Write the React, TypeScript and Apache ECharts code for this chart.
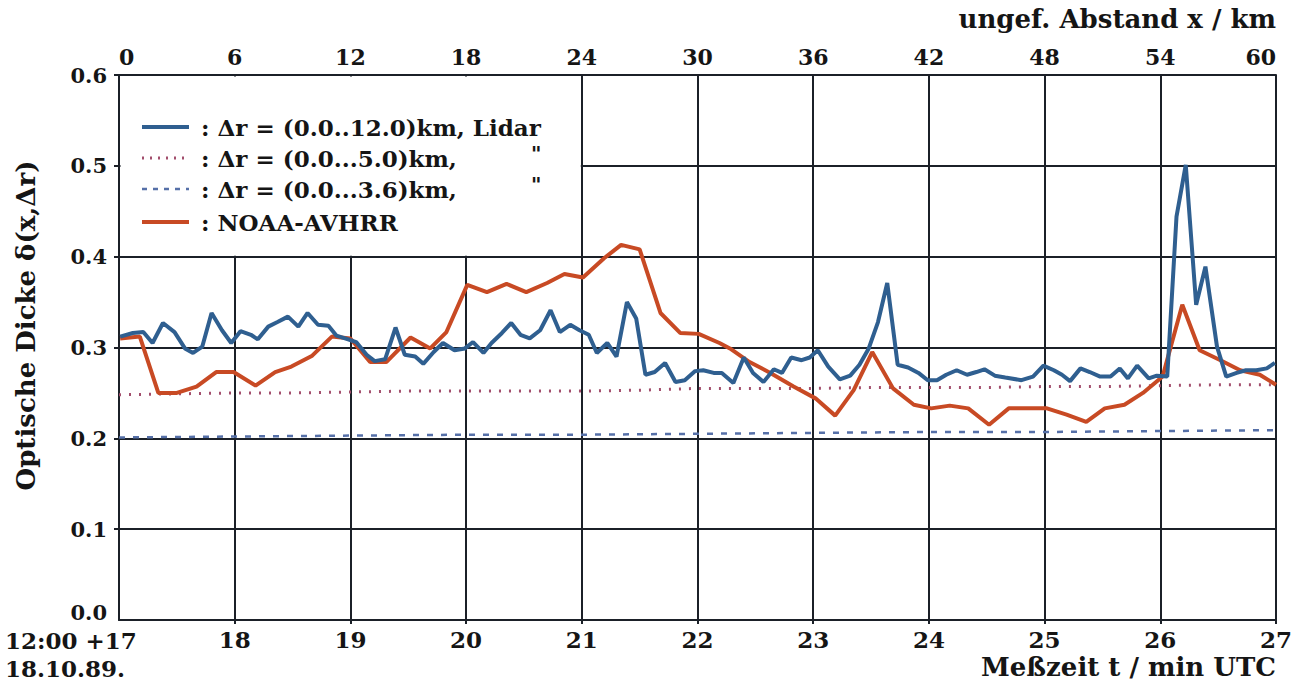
import React, { useEffect, useRef } from "react";
import * as echarts from "echarts";

const FONT = "'DejaVu Serif', 'Liberation Serif', serif";

// Lidar, Δr = 0.0..12.0 km  [t (min), δ]
const lidar12: number[][] = [
  [17.01, 0.312], [17.12, 0.316], [17.21, 0.317], [17.29, 0.305], [17.38, 0.327],
  [17.48, 0.317], [17.57, 0.299], [17.64, 0.294], [17.72, 0.301], [17.8, 0.338],
  [17.89, 0.319], [17.97, 0.305], [18.05, 0.318], [18.14, 0.314], [18.2, 0.309],
  [18.29, 0.323], [18.37, 0.328], [18.46, 0.334], [18.55, 0.323], [18.63, 0.338],
  [18.72, 0.325], [18.81, 0.324], [18.88, 0.313], [18.98, 0.309], [19.05, 0.306],
  [19.14, 0.292], [19.21, 0.285], [19.3, 0.287], [19.39, 0.322], [19.47, 0.292],
  [19.56, 0.29], [19.63, 0.282], [19.72, 0.295], [19.8, 0.305], [19.9, 0.297],
  [19.99, 0.299], [20.06, 0.306], [20.15, 0.294], [20.22, 0.305], [20.31, 0.316],
  [20.39, 0.327], [20.47, 0.314], [20.55, 0.31], [20.64, 0.319], [20.73, 0.341],
  [20.81, 0.317], [20.9, 0.325], [20.98, 0.319], [21.06, 0.314], [21.13, 0.294],
  [21.22, 0.305], [21.3, 0.29], [21.39, 0.35], [21.47, 0.332], [21.55, 0.27],
  [21.63, 0.273], [21.72, 0.283], [21.81, 0.262], [21.89, 0.264], [21.98, 0.274],
  [22.05, 0.275], [22.14, 0.272], [22.21, 0.272], [22.31, 0.261], [22.4, 0.289],
  [22.48, 0.272], [22.57, 0.262], [22.66, 0.276], [22.73, 0.272], [22.81, 0.289],
  [22.9, 0.286], [22.97, 0.289], [23.04, 0.297], [23.13, 0.279], [23.23, 0.265],
  [23.32, 0.269], [23.4, 0.281], [23.48, 0.299], [23.56, 0.328], [23.64, 0.371],
  [23.73, 0.281], [23.82, 0.278], [23.91, 0.272], [23.99, 0.264], [24.07, 0.264],
  [24.15, 0.27], [24.24, 0.275], [24.33, 0.27], [24.41, 0.273], [24.48, 0.276],
  [24.57, 0.269], [24.66, 0.267], [24.8, 0.264], [24.9, 0.268], [24.99, 0.28],
  [25.08, 0.275], [25.15, 0.27], [25.22, 0.263], [25.31, 0.277], [25.39, 0.273],
  [25.48, 0.268], [25.57, 0.268], [25.65, 0.277], [25.72, 0.266], [25.8, 0.28],
  [25.9, 0.266], [25.97, 0.269], [26.06, 0.268], [26.14, 0.444], [26.22, 0.501],
  [26.31, 0.347], [26.39, 0.389], [26.49, 0.301], [26.57, 0.268], [26.66, 0.272],
  [26.74, 0.275], [26.83, 0.275], [26.92, 0.277], [26.99, 0.283],
];

// Lidar, Δr = 0.0..5.0 km
const lidar5: number[][] = [
  [17, 0.248], [17.5, 0.249], [18, 0.25], [18.5, 0.25], [19, 0.251], [19.5, 0.252],
  [20, 0.252], [20.5, 0.252], [21, 0.252], [21.5, 0.253], [22, 0.255], [22.5, 0.255],
  [23, 0.255], [23.5, 0.256], [24, 0.256], [24.5, 0.256], [25, 0.257], [25.5, 0.257],
  [26, 0.258], [26.5, 0.259], [27, 0.259],
];

// Lidar, Δr = 0.0..3.6 km
const lidar36: number[][] = [
  [17, 0.201], [18, 0.202], [19, 0.203], [20, 0.204], [21, 0.204], [22, 0.205],
  [23, 0.206], [24, 0.207], [25, 0.207], [26, 0.208], [27, 0.209],
];

// NOAA-AVHRR
const noaa: number[][] = [
  [17.01, 0.31], [17.18, 0.312], [17.34, 0.25], [17.5, 0.25], [17.67, 0.257],
  [17.84, 0.273], [17.99, 0.273], [18.18, 0.258], [18.35, 0.273], [18.49, 0.279],
  [18.67, 0.291], [18.84, 0.312], [19.0, 0.31], [19.17, 0.284], [19.31, 0.284],
  [19.52, 0.311], [19.69, 0.299], [19.83, 0.317], [20.01, 0.369], [20.18, 0.361],
  [20.35, 0.37], [20.52, 0.361], [20.7, 0.371], [20.85, 0.381], [21.01, 0.377],
  [21.19, 0.398], [21.34, 0.413], [21.5, 0.408], [21.68, 0.338], [21.85, 0.316],
  [22.01, 0.315], [22.19, 0.305], [22.28, 0.299], [22.45, 0.284], [22.63, 0.272],
  [22.83, 0.257], [23.02, 0.244], [23.19, 0.225], [23.35, 0.253], [23.51, 0.295],
  [23.69, 0.255], [23.87, 0.237], [24.02, 0.233], [24.18, 0.236], [24.34, 0.233],
  [24.52, 0.215], [24.69, 0.233], [25.02, 0.233], [25.19, 0.226], [25.36, 0.218],
  [25.52, 0.233], [25.69, 0.237], [25.85, 0.25], [26.02, 0.268], [26.19, 0.347],
  [26.34, 0.297], [26.52, 0.286], [26.69, 0.275], [26.86, 0.27], [27.0, 0.259],
];

const legendTexts = [
  ": Δr = (0.0..12.0)km, Lidar",
  ": Δr = (0.0...5.0)km,",
  ": Δr = (0.0...3.6)km,",
  ": NOAA-AVHRR",
];

const BLUE = "#2f5f90";
const RED = "#c84a24";
const DOT = "#a24e6c";
const DASH = "#5670a8";
const GRID = "#1b2028";
const INK = "#151515";

export default function App() {
  const ref = useRef<HTMLDivElement>(null);
  useEffect(() => {
    const chart = echarts.init(ref.current!, null, { renderer: "svg" });
    const txt = (extra: any) => ({
      fontFamily: FONT,
      fontWeight: "bold",
      fill: INK,
      ...extra,
    });
    const rowsY = [127, 158, 189, 222];
    const iconStyles = [
      { stroke: BLUE, lineWidth: 4 },
      { stroke: DOT, lineWidth: 3, lineDash: [2, 6] },
      { stroke: DASH, lineWidth: 2.5, lineDash: [5, 6] },
      { stroke: RED, lineWidth: 4 },
    ];
    const staticGraphic: any[] = [
      { type: "text", left: 5, top: 629, z: 10, style: txt({ text: "12:00 +17", fontSize: 23 }) },
      { type: "text", left: 5, top: 657, z: 10, style: txt({ text: "18.10.89.", fontSize: 23 }) },
      { type: "text", right: 27, top: 654, z: 10, style: txt({ text: "Meßzeit t / min UTC", fontSize: 26 }) },
      { type: "text", right: 27, top: 6, z: 10, style: txt({ text: "ungef. Abstand x / km", fontSize: 26 }) },
    ];
    rowsY.forEach((y, i) => {
      staticGraphic.push({
        type: "line",
        z: 10,
        silent: true,
        shape: { x1: 142, y1: y, x2: 189, y2: y },
        style: iconStyles[i],
      });
      staticGraphic.push({
        type: "text",
        z: 10,
        x: 201,
        y: y,
        style: txt({ text: legendTexts[i], fontSize: 23, verticalAlign: "middle" }),
      });
    });
    [158, 189].forEach((y) => {
      staticGraphic.push({
        type: "text",
        z: 10,
        x: 531,
        y: y - 4,
        style: txt({ text: '"', fontSize: 20, verticalAlign: "middle" }),
      });
    });
    chart.setOption({
      animation: false,
      backgroundColor: "#ffffff",
      grid: { left: 119, right: 27, top: 75, bottom: 68 },
      xAxis: [
        {
          type: "value",
          min: 17,
          max: 27,
          interval: 1,
          position: "bottom",
          axisLine: { show: true, lineStyle: { color: GRID, width: 2 } },
          axisTick: { show: true, length: 4, lineStyle: { color: GRID, width: 2 } },
          axisLabel: {
            showMinLabel: false,
            margin: 8,
            fontFamily: FONT,
            fontWeight: "bold",
            fontSize: 23,
            color: INK,
          },
          splitLine: { show: true, lineStyle: { color: GRID, width: 2 } },
        },
        {
          type: "value",
          min: 0,
          max: 60,
          interval: 6,
          position: "top",
          axisLine: { show: true, lineStyle: { color: GRID, width: 2 } },
          axisTick: { show: false },
          axisLabel: {
            margin: 7,
            fontFamily: FONT,
            fontWeight: "bold",
            fontSize: 22,
            color: INK,
            alignMinLabel: "left",
            alignMaxLabel: "right",
          },
          splitLine: { show: false },
        },
      ],
      yAxis: {
        type: "value",
        min: 0,
        max: 0.6,
        interval: 0.1,
        name: "Optische Dicke δ(x,Δr)",
        nameLocation: "middle",
        nameGap: 80,
        nameRotate: 90,
        nameTextStyle: {
          fontFamily: FONT,
          fontWeight: "bold",
          fontSize: 26,
          color: INK,
          padding: [0, 0, 0, 44],
        },
        axisLine: { show: true, lineStyle: { color: GRID, width: 2 } },
        axisTick: { show: true, length: 5, lineStyle: { color: GRID, width: 2 } },
        axisLabel: {
          showMinLabel: false,
          margin: 12,
          formatter: (v: number) => v.toFixed(1),
          fontFamily: FONT,
          fontWeight: "bold",
          fontSize: 21,
          color: INK,
        },
        splitLine: { show: true, lineStyle: { color: GRID, width: 2 } },
      },
      graphic: staticGraphic,
      series: [
        {
          name: "Δr = (0.0...5.0)km",
          type: "line",
          data: lidar5,
          symbol: "none",
          z: 3,
          lineStyle: { color: DOT, width: 3, type: [2, 8] },
        },
        {
          name: "Δr = (0.0...3.6)km",
          type: "line",
          data: lidar36,
          symbol: "none",
          z: 3,
          lineStyle: { color: DASH, width: 2.5, type: [6, 8] },
        },
        {
          name: "NOAA-AVHRR",
          type: "line",
          data: noaa,
          symbol: "none",
          z: 4,
          lineStyle: { color: RED, width: 4 },
        },
        {
          name: "Δr = (0.0..12.0)km, Lidar",
          type: "line",
          data: lidar12,
          symbol: "none",
          z: 5,
          lineStyle: { color: BLUE, width: 4 },
        },
      ],
    });
    const a = chart.convertToPixel({ xAxisIndex: 0, yAxisIndex: 0 }, [17, 0.6]) as number[];
    const b = chart.convertToPixel({ xAxisIndex: 0, yAxisIndex: 0 }, [21, 0.4]) as number[];
    const o = chart.convertToPixel({ xAxisIndex: 0, yAxisIndex: 0 }, [17, 0]) as number[];
    chart.setOption({
      graphic: [
        ...staticGraphic,
        {
          type: "text",
          z: 10,
          x: o[0] - 12,
          y: o[1] - 8,
          style: txt({ text: "0.0", fontSize: 21, align: "right", verticalAlign: "middle" }),
        },
        {
          type: "rect",
          z: 1,
          silent: true,
          shape: { x: a[0] + 1.5, y: a[1] + 1.5, width: b[0] - a[0] - 2.5, height: b[1] - a[1] - 2.5 },
          style: { fill: "#ffffff" },
        },
      ],
    });
    return () => chart.dispose();
  }, []);
  return (
    <div
      ref={ref}
      style={{ position: "fixed", left: 0, top: 0, width: 1303, height: 688, background: "#fff" }}
    />
  );
}
